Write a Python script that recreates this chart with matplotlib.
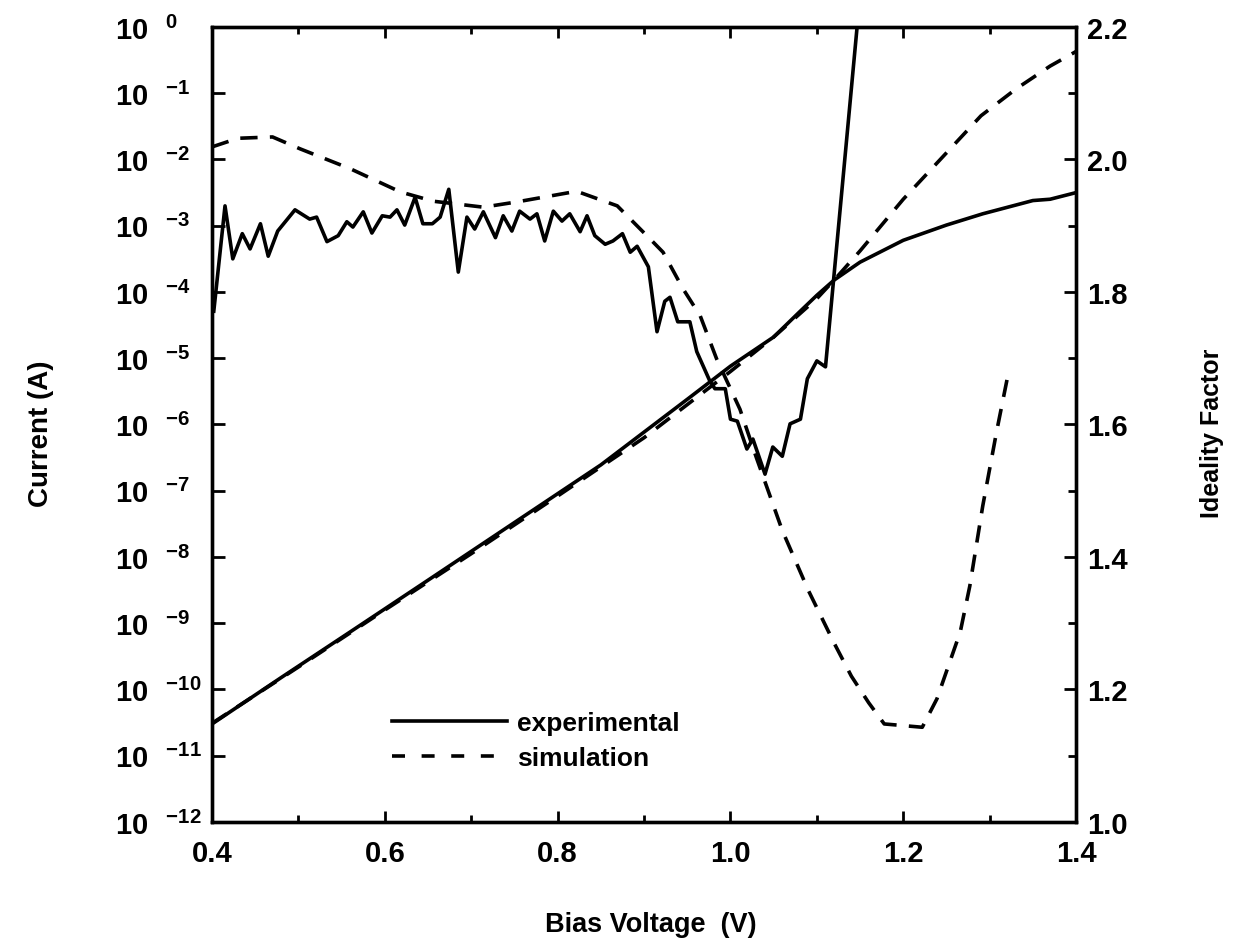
import matplotlib
matplotlib.use('Agg')
import matplotlib.pyplot as plt
import numpy as np
from matplotlib.ticker import FixedLocator, FuncFormatter, MultipleLocator, NullLocator
from matplotlib.lines import Line2D

plt.rcParams['font.family'] = ['Liberation Sans', 'DejaVu Sans']
plt.rcParams['font.weight'] = 'bold'
plt.rcParams['mathtext.fontset'] = 'custom'
plt.rcParams['mathtext.rm'] = 'Liberation Sans:bold'
plt.rcParams['mathtext.bf'] = 'Liberation Sans:bold'
plt.rcParams['mathtext.it'] = 'Liberation Sans:bold'

# ---------------- data ----------------
# Current vs bias (log10 of current in A)
iv_exp_v = [0.40, 0.48, 0.56, 0.65, 0.75, 0.85, 0.95, 1.00, 1.05, 1.08, 1.10, 1.12,
            1.15, 1.20, 1.25, 1.292, 1.35, 1.37, 1.40]
iv_exp_log10 = [-10.52, -9.82, -9.13, -8.35, -7.48, -6.61, -5.62, -5.12, -4.68, -4.30, -4.05, -3.82,
                -3.55, -3.22, -2.99, -2.82, -2.62, -2.60, -2.50]

iv_sim_v = [0.40, 0.50, 0.60, 0.70, 0.80, 0.90, 0.95, 1.00, 1.05, 1.10, 1.12,
            1.15, 1.20, 1.25, 1.29, 1.33, 1.37, 1.40]
iv_sim_log10 = [-10.51, -9.66, -8.80, -7.95, -7.08, -6.20, -5.70, -5.20, -4.68, -4.10, -3.82,
                -3.38, -2.60, -1.90, -1.34, -0.94, -0.59, -0.37]

# Ideality factor vs bias
n_exp_v = [0.402, 0.415, 0.424, 0.435, 0.444, 0.456, 0.465, 0.476, 0.496, 0.513, 0.521,
           0.533, 0.546, 0.556, 0.563, 0.575, 0.585, 0.597, 0.606, 0.614, 0.623, 0.635,
           0.644, 0.655, 0.664, 0.674, 0.685, 0.695, 0.704, 0.714, 0.728, 0.737, 0.747,
           0.756, 0.768, 0.776, 0.785, 0.795, 0.805, 0.814, 0.826, 0.834, 0.843, 0.855,
           0.864, 0.875, 0.884, 0.892, 0.905, 0.915, 0.924, 0.930, 0.939, 0.953, 0.961,
           0.976, 0.982, 0.994, 1.000, 1.008, 1.019, 1.026, 1.040, 1.049, 1.060, 1.069,
           1.081, 1.089, 1.100, 1.110, 1.148]
n_exp = [1.771, 1.930, 1.850, 1.888, 1.865, 1.903, 1.854, 1.892, 1.924, 1.910, 1.913,
         1.876, 1.885, 1.906, 1.898, 1.921, 1.889, 1.915, 1.913, 1.924, 1.901, 1.943,
         1.903, 1.903, 1.913, 1.955, 1.830, 1.913, 1.895, 1.921, 1.882, 1.915, 1.892,
         1.922, 1.910, 1.918, 1.877, 1.922, 1.907, 1.918, 1.891, 1.915, 1.885, 1.872,
         1.877, 1.888, 1.860, 1.869, 1.838, 1.740, 1.786, 1.792, 1.755, 1.755, 1.710,
         1.666, 1.654, 1.654, 1.608, 1.605, 1.563, 1.578, 1.525, 1.566, 1.552, 1.601,
         1.608, 1.669, 1.696, 1.687, 2.220]

n_sim_v = [0.400, 0.430, 0.470, 0.502, 0.560, 0.618, 0.656, 0.714, 0.753, 0.822, 0.869,
           0.907, 0.922, 0.945, 0.965, 0.984, 1.011, 1.030, 1.060, 1.090, 1.120, 1.140,
           1.160, 1.178, 1.222, 1.239, 1.266, 1.277, 1.292, 1.308, 1.322]
n_sim = [2.019, 2.032, 2.034, 2.016, 1.986, 1.951, 1.937, 1.928, 1.936, 1.952, 1.930,
         1.880, 1.860, 1.805, 1.764, 1.699, 1.623, 1.550, 1.440, 1.350, 1.270, 1.220,
         1.180, 1.148, 1.143, 1.186, 1.287, 1.356, 1.477, 1.589, 1.680]

x_ticks = [0.4, 0.6, 0.8, 1.0, 1.2, 1.4]
y_exponents = list(range(0, -13, -1))
n_ticks = [1.0, 1.2, 1.4, 1.6, 1.8, 2.0, 2.2]

# ---------------- figure ----------------
fig = plt.figure(figsize=(12.35, 9.45), dpi=100)
ax = fig.add_axes([0.1717, 0.1291, 0.6996, 0.8413])
ax2 = ax.twinx()

lw = 2.6
dash = (4.8, 3.4)

ax.plot(iv_exp_v, 10.0 ** np.array(iv_exp_log10), color='black', lw=lw)
ax.plot(iv_sim_v, 10.0 ** np.array(iv_sim_log10), color='black', lw=lw,
        linestyle=(0, dash))
ax2.plot(n_exp_v, n_exp, color='black', lw=lw)
ax2.plot(n_sim_v, n_sim, color='black', lw=lw, linestyle=(0, dash))

ax.set_yscale('log')
ax.set_xlim(0.4, 1.4)
ax.set_ylim(1e-12, 1.0)
ax2.set_ylim(1.0, 2.2)

# left log axis ticks
ax.yaxis.set_major_locator(FixedLocator([10.0 ** e for e in y_exponents]))
ax.yaxis.set_minor_locator(NullLocator())
ax.yaxis.set_major_formatter(FuncFormatter(
    lambda v, p: r'$\mathbf{10}^{\quad\mathbf{%d}}$' % int(round(np.log10(v)))))
ax.tick_params(axis='y', which='major', direction='in', length=9, width=2,
               labelsize=21, pad=70, right=False)
for lab in ax.get_yticklabels():
    lab.set_horizontalalignment('left')
    lab.set_verticalalignment('center_baseline')

# x axis ticks
ax.xaxis.set_major_locator(FixedLocator(x_ticks))
ax.xaxis.set_minor_locator(MultipleLocator(0.1))
ax.xaxis.set_major_formatter(FuncFormatter(lambda v, p: '%.1f' % v))
ax.tick_params(axis='x', which='both', direction='in', top=True, width=2,
               labelsize=21, pad=12)
ax.tick_params(axis='x', which='major', length=8)
ax.tick_params(axis='x', which='minor', length=5)

# right axis ticks
ax2.yaxis.set_major_locator(FixedLocator(n_ticks))
ax2.yaxis.set_minor_locator(MultipleLocator(0.1))
ax2.yaxis.set_major_formatter(FuncFormatter(lambda v, p: '%.1f' % v))
ax2.tick_params(axis='y', which='both', direction='in', width=2, labelsize=21, pad=8)
ax2.tick_params(axis='y', which='major', length=9)
ax2.tick_params(axis='y', which='minor', length=6)

for a in (ax, ax2):
    for s in a.spines.values():
        s.set_linewidth(2.4)

ax.set_ylabel('Current (A)', fontsize=20, fontweight='bold')
ax.yaxis.set_label_coords(-0.183, 0.49)
ax2.set_ylabel('Ideality Factor', fontsize=18, fontweight='bold')
ax2.yaxis.set_label_coords(1.144, 0.49)
ax.set_xlabel('Bias Voltage  (V)', fontsize=19.5, fontweight='bold')
ax.xaxis.set_label_coords(0.508, -0.112)

handles = [Line2D([], [], color='black', lw=lw),
           Line2D([], [], color='black', lw=lw, linestyle=(0, (3.6, 4.6)))]
leg = ax.legend(handles, ['experimental', 'simulation'], loc='center left',
                bbox_to_anchor=(0.181, 0.1025), frameon=False, fontsize=19,
                handlelength=4.35, handletextpad=0.38, labelspacing=0.42)

fig.savefig('out.png', dpi=100)
